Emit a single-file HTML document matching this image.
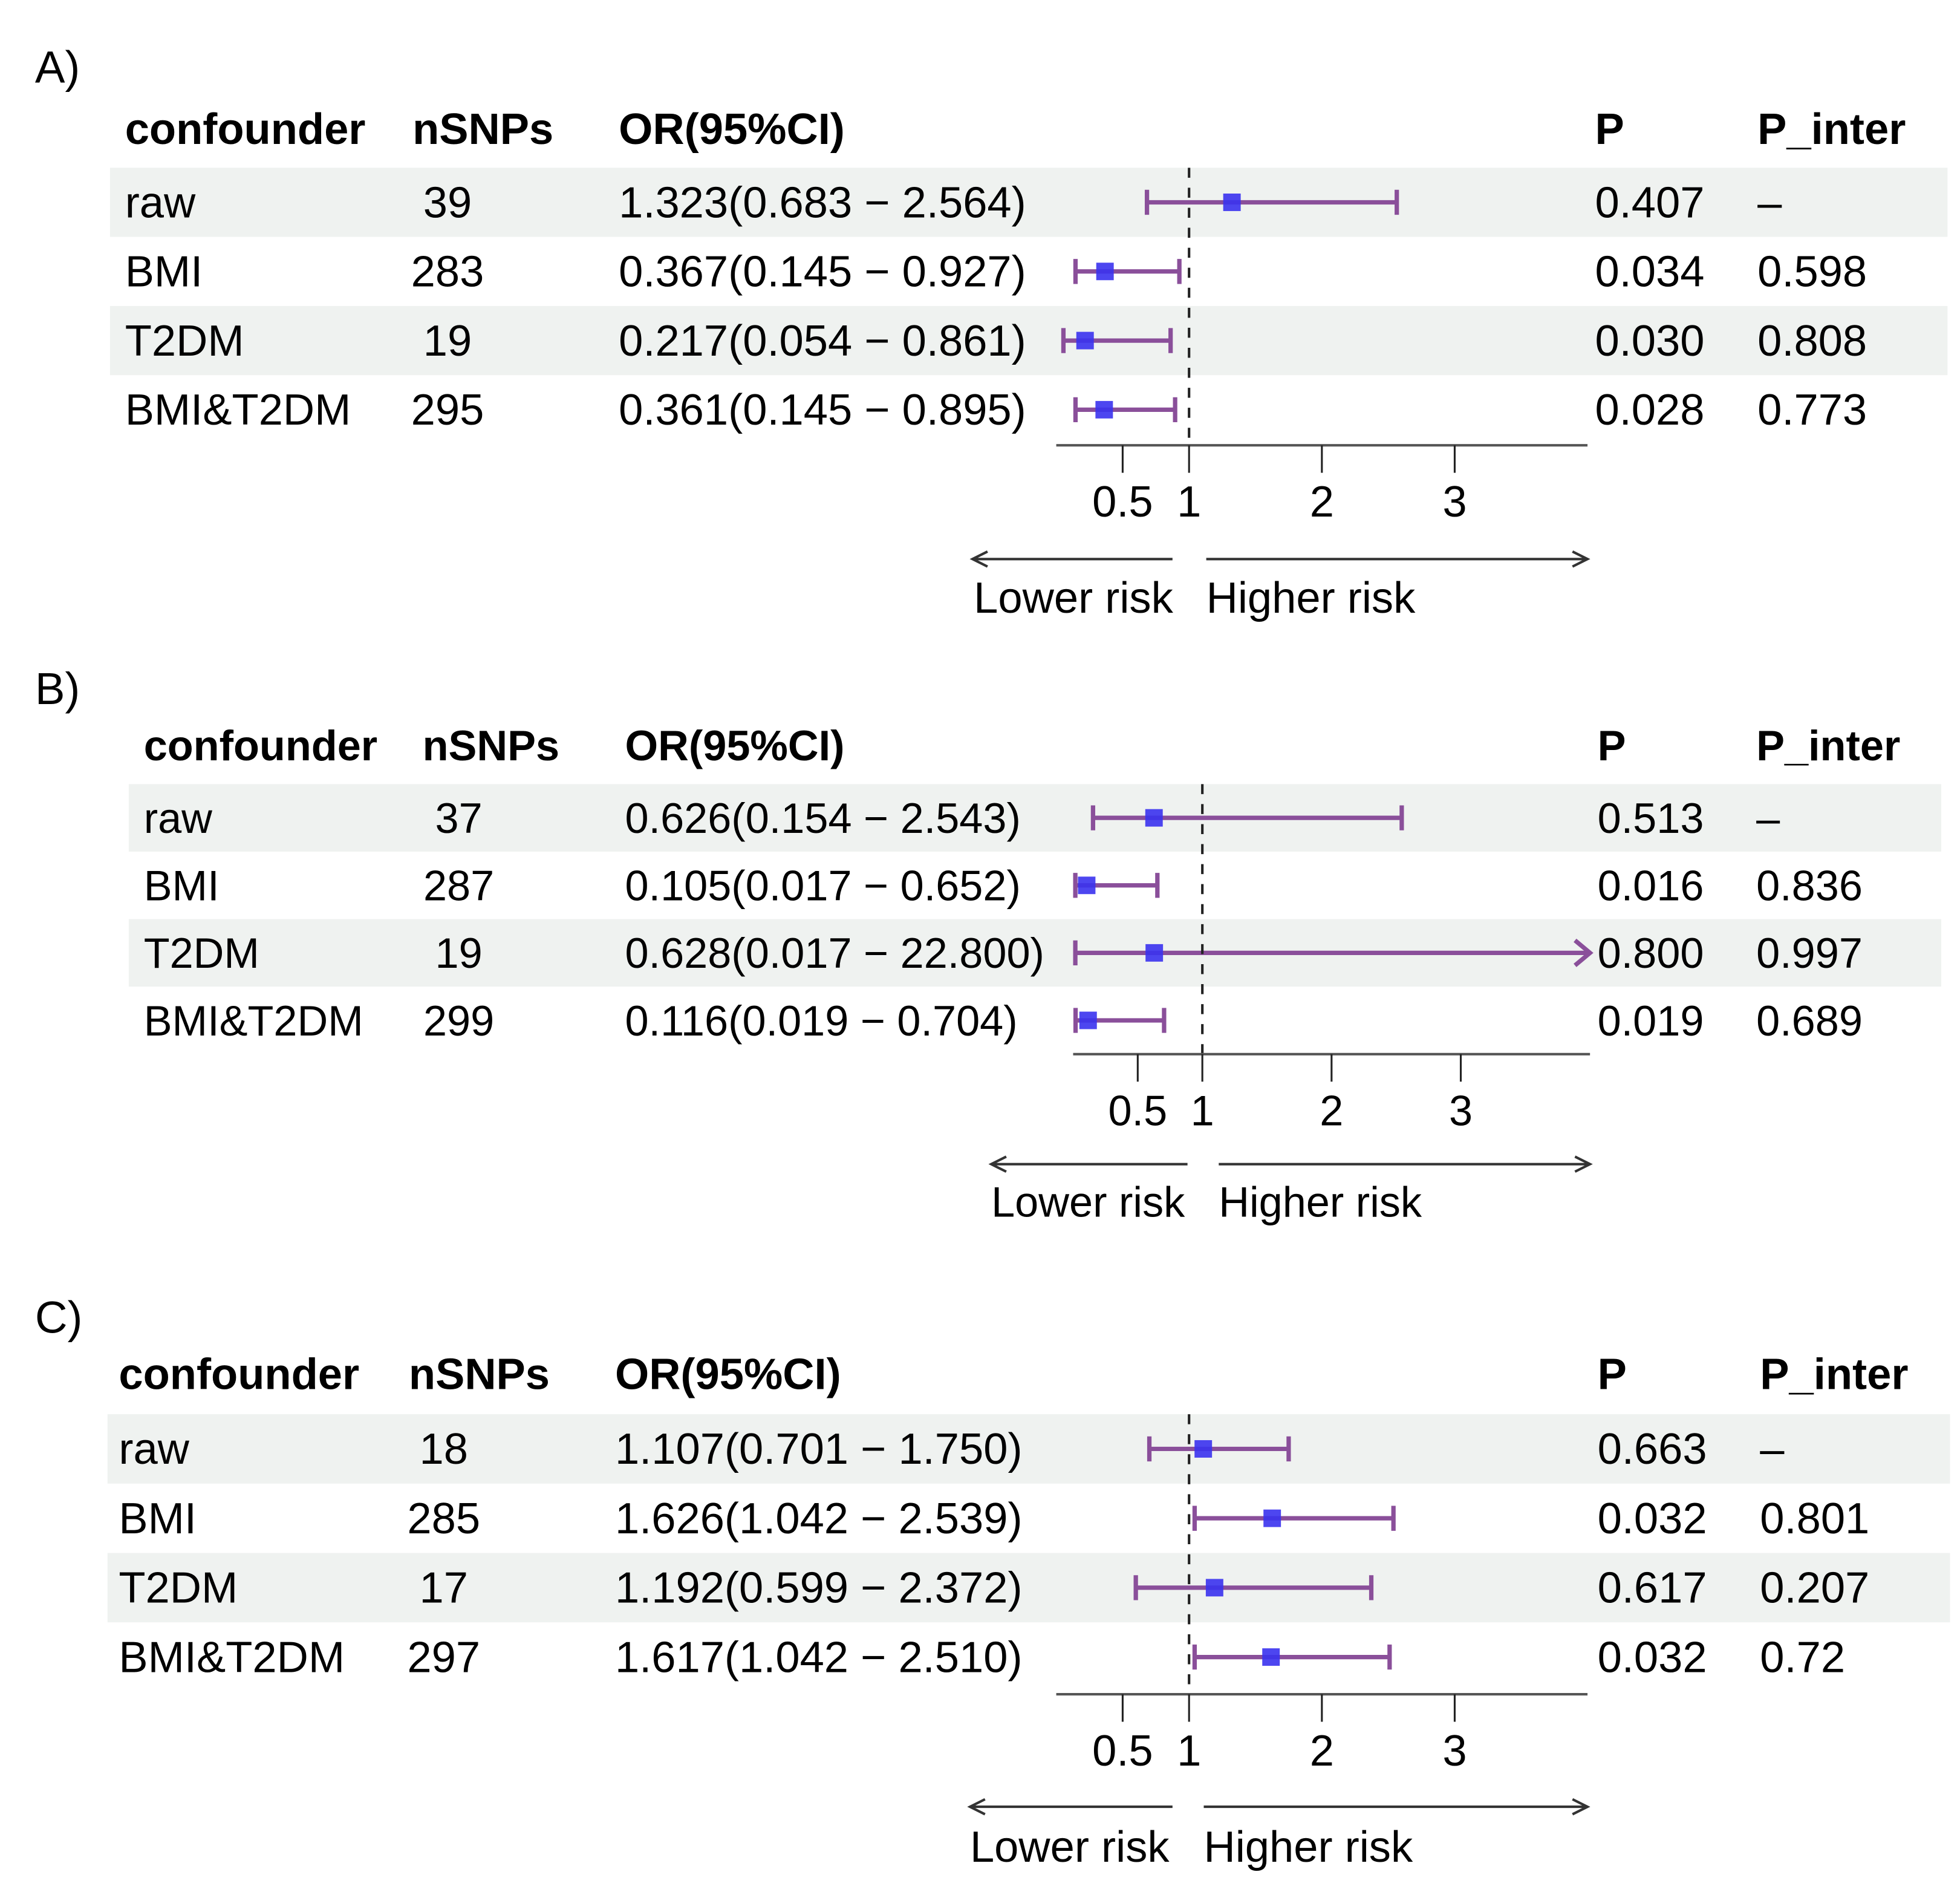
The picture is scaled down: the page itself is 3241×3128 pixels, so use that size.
<!DOCTYPE html>
<html><head><meta charset="utf-8">
<style>
html,body{margin:0;padding:0;background:#fff;}
svg{display:block;}
text{font-family:"Liberation Sans",Arial,sans-serif;fill:#000;}
</style></head>
<body>
<svg id="chart" width="3241" height="3128" viewBox="0 0 1568 1513" xmlns="http://www.w3.org/2000/svg">
</svg>
<script>
// ---- data (panel A) ----
const confA = ["raw","BMI","T2DM","BMI&T2DM"];
const nsnpA = ["39","283","19","295"];
const orA = [1.323,0.367,0.217,0.361];
const loA = [0.683,0.145,0.054,0.145];
const hiA = [2.564,0.927,0.861,0.895];
const pA = ["0.407","0.034","0.030","0.028"];
const pinterA = ["\u2013","0.598","0.808","0.773"];
// ---- data (panel B) ----
const confB = ["raw","BMI","T2DM","BMI&T2DM"];
const nsnpB = ["37","287","19","299"];
const orB = [0.626,0.105,0.628,0.116];
const loB = [0.154,0.017,0.017,0.019];
const hiB = [2.543,0.652,22.800,0.704];
const pB = ["0.513","0.016","0.800","0.019"];
const pinterB = ["\u2013","0.836","0.997","0.689"];
// ---- data (panel C) ----
const confC = ["raw","BMI","T2DM","BMI&T2DM"];
const nsnpC = ["18","285","17","297"];
const orC = [1.107,1.626,1.192,1.617];
const loC = [0.701,1.042,0.599,1.042];
const hiC = [1.750,2.539,2.372,2.510];
const pC = ["0.663","0.032","0.617","0.032"];
const pinterC = ["\u2013","0.801","0.207","0.72"];
const tickVals = [0.5,1,2,3];
const tickLabels = ["0.5","1","2","3"];
const axisMin = 0, axisMax = 4;

const NS="http://www.w3.org/2000/svg";
const svg=document.getElementById('chart');
function el(tag,attrs,parent){const e=document.createElementNS(NS,tag);for(const k in attrs)e.setAttribute(k,attrs[k]);(parent||svg).appendChild(e);return e;}
function txt(s,x,y,attrs,parent){const t=el('text',Object.assign({x:x,y:y,'font-size':35},attrs||{}),parent);t.textContent=s;return t;}
function fmt(v){return v.toFixed(3);}

const panels=[
 {label:"A)",ly:66,fs:35,conf:confA,n:nsnpA,or:orA,lo:loA,hi:hiA,p:pA,pi:pinterA,
  hy:115,cx:100,nx:358,nhx:330,ox:495,px:1276,pix:1406,rowTop:134,rowH:55.3,bandX0:88,bandX1:1558,
  ax0:845,ax1:1270,axY:356,arrY:447,lArr:[778,938],rArr:[965,1270],labY:490,lowX:779,highX:965},
 {label:"B)",ly:563,fs:34,conf:confB,n:nsnpB,or:orB,lo:loB,hi:hiB,p:pB,pi:pinterB,
  hy:608,cx:115,nx:367,nhx:338,ox:500,px:1278,pix:1405,rowTop:627,rowH:54,bandX0:103,bandX1:1553,
  ax0:858.5,ax1:1272,axY:843,arrY:931,lArr:[793,950],rArr:[975,1272],labY:973,lowX:793,highX:975},
 {label:"C)",ly:1066,fs:35,conf:confC,n:nsnpC,or:orC,lo:loC,hi:hiC,p:pC,pi:pinterC,
  hy:1111,cx:95,nx:355,nhx:327,ox:492,px:1278,pix:1408,rowTop:1131,rowH:55.5,bandX0:86,bandX1:1560,
  ax0:845,ax1:1270,axY:1355,arrY:1445,lArr:[776,938],rArr:[963,1270],labY:1489,lowX:776,highX:963}
];

panels.forEach((P,pi)=>{
  const g=el('g',{});
  
  
  const X=v=>P.ax0+(Math.min(Math.max(v,axisMin),axisMax)-axisMin)/(axisMax-axisMin)*(P.ax1-P.ax0);
  P.conf.forEach((c,i)=>{
    if(i%2===0){
      const b=el('rect',{x:P.bandX0,y:P.rowTop+i*P.rowH,width:P.bandX1-P.bandX0,height:P.rowH,fill:'#eff2f0'},g);
      
      
    }
  });
  const t0=txt(P.label,28,P.ly,{'font-size':36},g);
  
  
  [["confounder",P.cx],["nSNPs",P.nhx],["OR(95%CI)",P.ox],["P",P.px],["P_inter",P.pix]].forEach(h=>{
    const t=txt(h[0],h[1],P.hy,{'font-weight':'bold','font-size':P.fs},g);
    
    
  });
  P.conf.forEach((c,i)=>{
    const cy=P.rowTop+(i+0.5)*P.rowH, by=cy+12;
    const fa={'font-size':P.fs};
    let t=txt(c,P.cx,by,fa,g);
    
    
    t=txt(P.n[i],P.nx,by,{'text-anchor':'middle','font-size':P.fs},g);
    
    
    t=txt(fmt(P.or[i])+"("+fmt(P.lo[i])+" \u2212 "+fmt(P.hi[i])+")",P.ox,by,fa,g);
    
    
    t=txt(P.p[i],P.px,by,fa,g);
    
    
    t=txt(P.pi[i],P.pix,by,fa,g);
    
    
    const x1=X(P.lo[i]), clipped=P.hi[i]>axisMax, x2=X(P.hi[i]);
    const ln=el('line',{x1:x1,y1:cy,x2:x2,y2:cy,stroke:'#8a4f9a','stroke-width':3.5},g);
    
    
    const c1=el('line',{x1:x1,y1:cy-10,x2:x1,y2:cy+10,stroke:'#8a4f9a','stroke-width':3.5},g);
    
    
    if(clipped){
      const ar=el('polyline',{points:(x2-12)+','+(cy-10)+' '+x2+','+cy+' '+(x2-12)+','+(cy+10),fill:'none',stroke:'#8a4f9a','stroke-width':3.5},g);
      
      
    } else {
      const c2=el('line',{x1:x2,y1:cy-10,x2:x2,y2:cy+10,stroke:'#8a4f9a','stroke-width':3.5},g);
      
      
    }
    const sq=el('rect',{x:X(P.or[i])-7,y:cy-7,width:14,height:14,fill:'#3a32ee','fill-opacity':0.9},g);
    
    
  });
  const rl=el('line',{x1:X(1),y1:P.rowTop,x2:X(1),y2:P.axY,stroke:'#222','stroke-width':2,'stroke-dasharray':'8,8'},g);
  
  
  const ax=el('line',{x1:P.ax0,y1:P.axY,x2:P.ax1,y2:P.axY,stroke:'#555','stroke-width':2},g);
  
  
  tickVals.forEach((v,k)=>{
    const tk=el('line',{x1:X(v),y1:P.axY,x2:X(v),y2:P.axY+22,stroke:'#222','stroke-width':1.5},g);
    
    
    const tl=txt(tickLabels[k],X(v),P.axY+57,{'text-anchor':'middle','font-size':P.fs},g);
    
    
  });
  const la=el('path',{d:`M${P.lArr[1]},${P.arrY} L${P.lArr[0]},${P.arrY} M${P.lArr[0]+12},${P.arrY-6} L${P.lArr[0]},${P.arrY} L${P.lArr[0]+12},${P.arrY+6}`,fill:'none',stroke:'#333','stroke-width':2},g);
  
  
  const ra=el('path',{d:`M${P.rArr[0]},${P.arrY} L${P.rArr[1]},${P.arrY} M${P.rArr[1]-12},${P.arrY-6} L${P.rArr[1]},${P.arrY} L${P.rArr[1]-12},${P.arrY+6}`,fill:'none',stroke:'#333','stroke-width':2},g);
  
  
  let lt=txt("Lower risk",P.lowX,P.labY,{'font-size':P.fs},g);
  
  
  lt=txt("Higher risk",P.highX,P.labY,{'font-size':P.fs},g);
  
  
});
</script>
</body></html>
